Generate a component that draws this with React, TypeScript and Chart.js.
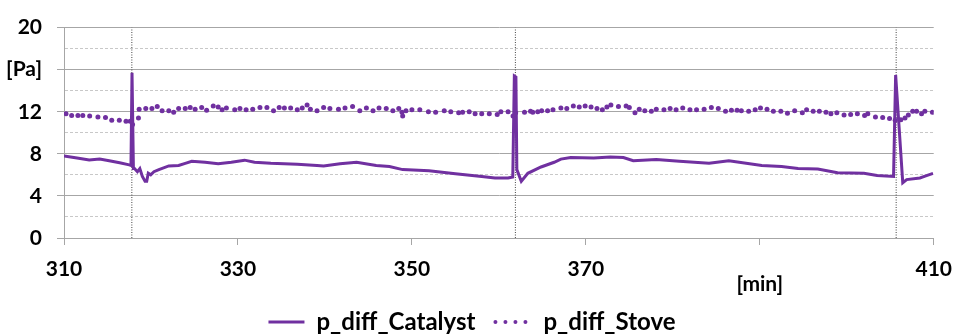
import React, { useEffect, useRef } from 'react';
import { Chart, registerables } from 'chart.js';

Chart.register(...registerables);

const PURPLE = '#7030a0';
const FONT_FAMILY = 'Lato, "Open Sans", sans-serif';

const seriesNames = ['p_diff_Catalyst', 'p_diff_Stove'];

const catalystMin = [
  310.0, 311.5, 312.9, 314.1, 315.2, 316.4, 317.5, 317.7, 317.82, 317.98,
  318.1, 318.44, 318.72, 319.01, 319.32, 319.51, 319.69, 319.97, 320.34, 320.91,
  322.05, 323.18, 323.94, 324.69, 326.22, 327.73, 329.24, 330.76, 331.9, 333.78,
  335.31, 336.82, 339.09, 339.85, 341.74, 343.64, 345.9, 347.42, 348.94, 351.97,
  355.0, 358.03, 359.55, 361.06, 361.6, 361.78, 361.96, 362.07, 362.58, 363.33,
  364.85, 366.36, 367.13, 368.26, 370.91, 372.81, 374.32, 375.45, 378.1, 380.76,
  384.17, 386.44, 390.23, 392.5, 394.4, 396.67, 398.94, 401.97, 403.49, 405.38,
  405.62, 406.44, 406.89, 408.41, 409.09, 409.92,
];
const catalystPa = [
  7.8, 7.6, 7.42, 7.5, 7.35, 7.15, 6.95, 6.9, 15.7, 6.6,
  6.6, 6.3, 6.6, 5.85, 5.4, 5.4, 6.15, 6.0, 6.3, 6.5,
  6.85, 6.9, 7.1, 7.3, 7.2, 7.05, 7.2, 7.4, 7.2, 7.1,
  7.05, 7.0, 6.9, 6.85, 7.05, 7.2, 6.9, 6.8, 6.5, 6.4,
  6.1, 5.85, 5.7, 5.7, 5.8, 15.4, 15.3, 6.5, 5.4, 6.15,
  6.75, 7.2, 7.5, 7.65, 7.6, 7.7, 7.65, 7.35, 7.45, 7.3,
  7.1, 7.35, 6.9, 6.8, 6.6, 6.55, 6.2, 6.15, 5.95, 5.85,
  15.5, 5.25, 5.55, 5.7, 5.9, 6.15,
];

const stoveMin = [
  310.23, 310.88, 311.6, 312.16, 312.95, 313.9, 314.77, 315.49, 316.36, 317.13,
  317.6, 317.88, 318.56, 318.64, 319.4, 320.11, 320.72, 321.28, 322.05, 322.61,
  323.18, 323.94, 324.51, 325.08, 325.83, 326.4, 327.16, 327.73, 328.18, 328.67,
  329.63, 330.23, 330.94, 331.7, 332.53, 333.33, 334.09, 334.74, 335.34, 336.06,
  336.82, 337.39, 337.95, 338.33, 339.09, 339.85, 340.57, 341.56, 342.31, 343.18,
  344.01, 344.77, 345.53, 346.22, 347.05, 347.81, 348.49, 348.86, 348.94, 349.32,
  350.0, 350.91, 351.9, 352.73, 353.72, 354.47, 355.38, 355.83, 356.59, 357.27,
  358.03, 358.9, 359.81, 360.23, 361.06, 361.63, 361.93, 362.95, 363.64, 363.9,
  364.47, 364.92, 365.6, 366.22, 367.13, 367.81, 368.56, 369.24, 369.92, 370.6,
  371.28, 371.9, 372.42, 372.88, 373.75, 374.63, 375.0, 375.65, 376.14, 376.78,
  377.53, 378.1, 378.98, 379.69, 380.38, 381.14, 381.97, 382.73, 383.6, 384.43,
  385.23, 386.06, 386.74, 387.39, 387.88, 388.72, 389.47, 390.08, 390.83, 391.56,
  392.42, 393.18, 394.01, 394.89, 395.38, 396.14, 396.85, 397.61, 398.18, 398.86,
  399.69, 400.45, 401.22, 402.05, 402.42, 403.3, 404.13, 404.92, 405.57, 406.22,
  406.7, 407.08, 407.58, 408.03, 408.6, 408.98, 409.85,
];
const stovePa = [
  11.8, 11.65, 11.65, 11.65, 11.6, 11.5, 11.45, 11.2, 11.2, 11.1,
  11.1, 10.8, 11.4, 12.25, 12.3, 12.3, 12.5, 12.1, 12.1, 11.95,
  12.3, 12.3, 12.4, 12.25, 12.4, 12.15, 12.55, 12.45, 12.2, 12.35,
  12.2, 12.3, 12.2, 12.25, 12.4, 12.4, 12.1, 12.4, 12.35, 12.35,
  12.2, 12.35, 12.65, 12.25, 12.1, 12.4, 12.3, 12.25, 12.35, 12.5,
  12.1, 12.35, 12.1, 12.35, 12.3, 12.1, 12.3, 11.95, 11.6, 12.1,
  12.2, 12.2, 12.0, 11.95, 12.1, 12.0, 11.9, 11.95, 12.0, 11.8,
  11.8, 11.8, 11.75, 12.0, 12.0, 11.6, 11.9, 11.95, 12.05, 11.95,
  12.0, 12.1, 12.1, 12.2, 12.35, 12.3, 12.55, 12.45, 12.55, 12.45,
  12.3, 12.2, 12.45, 12.65, 12.5, 12.55, 12.4, 11.9, 12.25, 12.1,
  12.05, 12.25, 12.2, 12.3, 12.2, 12.35, 12.2, 12.2, 12.25, 12.4,
  12.3, 12.05, 12.15, 12.15, 12.1, 12.05, 12.2, 12.35, 12.25, 12.05,
  12.05, 11.85, 12.1, 11.9, 12.2, 12.05, 12.05, 11.95, 11.8, 11.9,
  11.7, 11.75, 11.8, 11.65, 11.8, 11.5, 11.45, 11.35, 11.2, 11.25,
  11.4, 11.7, 12.05, 12.05, 11.8, 12.05, 11.95,
];

const eventMin = [317.8, 361.9, 405.68];

const xTickValues = [310, 330, 350, 370, 390, 410];
const xTickLabels = ['310', '330', '350', '370', '', '410'];
const xUnitLabel = '[min]';
const xUnitAt = 390;

const yGridValues = [0, 2, 4, 6, 8, 10, 12, 14, 16, 18, 20];
const yTickValues = [0, 4, 8, 12, 16, 20];
const yTickLabels = ['0', '4', '8', '12', '[Pa]', '20'];

const MAJOR = '#a6a6a6';
const MINOR = '#c8c8c8';

export default function App() {
  const ref = useRef<HTMLCanvasElement>(null);

  useEffect(() => {
    document.body.style.margin = '0';
    const canvas = ref.current;
    if (!canvas) return;

    const isMajor = (v: number) => yTickValues.indexOf(v) >= 0;

    const unitPlugin = {
      id: 'unitLabel',
      afterDraw(chart: any) {
        const xs = chart.scales.x;
        const ctx = chart.ctx;
        ctx.save();
        ctx.font = `bold 21px ${FONT_FAMILY}`;
        ctx.fillStyle = '#000';
        ctx.textAlign = 'center';
        ctx.textBaseline = 'middle';
        ctx.fillText(xUnitLabel, xs.getPixelForValue(xUnitAt), chart.chartArea.bottom + 46);
        ctx.restore();
      },
    };

    const eventSets = eventMin.map((m) => ({
      label: 'event',
      data: [
        { x: m, y: 0 },
        { x: m, y: 20 },
      ],
      borderColor: '#454545',
      borderWidth: 1,
      borderDash: [1, 1.5],
      pointRadius: 0,
      fill: false,
    }));

    const chart = new Chart(canvas, {
      type: 'line',
      data: {
        datasets: [
          {
            label: seriesNames[0],
            data: catalystMin.map((x, i) => ({ x, y: catalystPa[i] })),
            borderColor: PURPLE,
            backgroundColor: PURPLE,
            borderWidth: 3,
            pointRadius: 0,
            tension: 0,
            fill: false,
          },
          {
            label: seriesNames[1],
            data: stoveMin.map((x, i) => ({ x, y: stovePa[i] })),
            borderColor: PURPLE,
            backgroundColor: PURPLE,
            showLine: false,
            pointRadius: 2.5,
            pointBorderWidth: 0,
            pointBackgroundColor: PURPLE,
            fill: false,
          },
          ...eventSets,
        ],
      },
      plugins: [unitPlugin],
      options: {
        responsive: false,
        animation: false,
        devicePixelRatio: 1,
        layout: { padding: { left: 0, right: 20, top: 17, bottom: -8 } },
        plugins: {
          tooltip: { enabled: false },
          legend: {
            position: 'bottom',
            labels: {
              color: '#000',
              font: { family: FONT_FAMILY, size: 24, weight: 'bold' },
              usePointStyle: true,
              pointStyleWidth: 36,
              padding: 20,
              generateLabels: () => [
                {
                  text: seriesNames[0],
                  fillStyle: 'rgba(0,0,0,0)',
                  strokeStyle: PURPLE,
                  lineWidth: 3,
                  lineDash: [],
                  lineCap: 'butt',
                  pointStyle: 'line',
                  hidden: false,
                  datasetIndex: 0,
                  fontColor: '#000',
                },
                {
                  text: seriesNames[1],
                  fillStyle: 'rgba(0,0,0,0)',
                  strokeStyle: PURPLE,
                  lineWidth: 4,
                  lineDash: [0, 10],
                  lineCap: 'round',
                  pointStyle: 'line',
                  hidden: false,
                  datasetIndex: 1,
                  fontColor: '#000',
                },
              ],
            },
          },
        },
        scales: {
          x: {
            type: 'linear',
            min: 310,
            max: 410,
            afterBuildTicks: (s: any) => {
              s.ticks = xTickValues.map((v) => ({ value: v }));
            },
            afterFit: (s: any) => {
              s.height = 52;
            },
            ticks: {
              autoSkip: false,
              maxRotation: 0,
              padding: 12,
              color: '#000',
              font: { family: FONT_FAMILY, size: 21, weight: 'bold' },
              callback: (v: any) => {
                const i = xTickValues.indexOf(Number(v));
                return i >= 0 ? xTickLabels[i] : '';
              },
            },
            grid: {
              drawOnChartArea: false,
              drawTicks: true,
              tickLength: 7,
              color: MAJOR,
              tickColor: MAJOR,
            },
            border: { display: true, color: MAJOR, width: 1 },
          },
          y: {
            type: 'linear',
            min: 0,
            max: 20,
            afterBuildTicks: (s: any) => {
              s.ticks = yGridValues.map((v) => ({ value: v }));
            },
            afterFit: (s: any) => {
              s.width = 64;
            },
            ticks: {
              autoSkip: false,
              padding: 15,
              color: '#000',
              font: { family: FONT_FAMILY, size: 21, weight: 'bold' },
              callback: (v: any) => {
                const i = yTickValues.indexOf(Number(v));
                return i >= 0 ? yTickLabels[i] : '';
              },
            },
            grid: {
              drawTicks: true,
              tickLength: 7,
              lineWidth: 1,
              color: (c: any) => (isMajor(c.tick?.value) ? MAJOR : MINOR),
              tickColor: (c: any) => (isMajor(c.tick?.value) ? MAJOR : 'rgba(0,0,0,0)'),
            },
            border: {
              display: true,
              color: MAJOR,
              width: 1,
              dash: (c: any) => (isMajor(c.tick?.value) ? [] : [3, 2]),
            },
          },
        },
      } as any,
    });

    return () => chart.destroy();
  }, []);

  return (
    <div style={{ width: 964, height: 336 }}>
      <canvas ref={ref} width={964} height={336} style={{ display: 'block' }} />
    </div>
  );
}
